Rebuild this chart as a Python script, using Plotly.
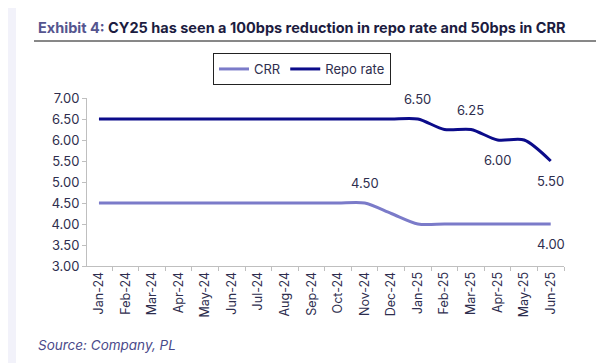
import plotly.graph_objects as go

months = ["Jan-24", "Feb-24", "Mar-24", "Apr-24", "May-24", "Jun-24", "Jul-24", "Aug-24",
          "Sep-24", "Oct-24", "Nov-24", "Dec-24", "Jan-25", "Feb-25", "Mar-25", "Apr-25",
          "May-25", "Jun-25"]
crr = [4.50, 4.50, 4.50, 4.50, 4.50, 4.50, 4.50, 4.50, 4.50, 4.50, 4.50, 4.25,
       4.00, 4.00, 4.00, 4.00, 4.00, 4.00]
repo = [6.50, 6.50, 6.50, 6.50, 6.50, 6.50, 6.50, 6.50, 6.50, 6.50, 6.50, 6.50,
        6.50, 6.25, 6.25, 6.00, 6.00, 5.50]
y_ticks = [3.0, 3.5, 4.0, 4.5, 5.0, 5.5, 6.0, 6.5, 7.0]

# labelled points: (index, above?)
repo_labels = [(12, True), (14, True), (15, False), (17, False)]
crr_labels = [(10, True), (17, False)]

CRR_COLOR = "#7b7bc9"
REPO_COLOR = "#0b0b8a"
TEXT = "#2e2e4e"
FONT = "Inter"

fig = go.Figure()
fig.add_trace(go.Scatter(x=months, y=crr, name="CRR", mode="lines",
                         line=dict(color=CRR_COLOR, width=3, shape="spline", smoothing=0.8)))
fig.add_trace(go.Scatter(x=months, y=repo, name="Repo rate", mode="lines",
                         line=dict(color=REPO_COLOR, width=3, shape="spline", smoothing=0.8)))

ann = []
for series, labels in ((repo, repo_labels), (crr, crr_labels)):
    for i, above in labels:
        ann.append(dict(x=months[i], y=series[i], xref="x", yref="y", text=f"{series[i]:.2f}",
                        showarrow=False, yshift=20 if above else -20,
                        font=dict(family=FONT, size=13, color=TEXT)))

W, H = 611, 363
L, R, T, B = 79, 55, 90, 105
pw, ph = W - L - R, H - T - B
def px(x):
    return (x - L) / pw
def py(y):
    return (H - B - y) / ph

ann.append(dict(x=px(28), y=py(20), xref="paper", yref="paper", xanchor="left", yanchor="middle",
                showarrow=False,
                text="<span style='color:#55558f'>Exhibit 4:</span> CY25 has seen a 100bps reduction in repo rate and 50bps in CRR",
                font=dict(family=FONT, size=14.5, color="#1c1c40", weight="bold")))
ann.append(dict(x=px(28), y=py(337), xref="paper", yref="paper", xanchor="left", yanchor="middle",
                showarrow=False, text="<i>Source: Company, PL</i>",
                font=dict(family=FONT, size=13.5, color="#4a4a8a")))

shapes = [
    dict(type="line", xref="paper", yref="paper", x0=px(26), x1=px(588), y0=py(33), y1=py(33),
         line=dict(color="#111111", width=1)),
    dict(type="rect", xref="paper", yref="paper", x0=px(0), x1=px(8), y0=py(0), y1=py(H),
         fillcolor="#f2f2fa", line=dict(width=0), layer="below"),
]

fig.update_layout(
    width=W, height=H,
    margin=dict(l=L, r=R, t=T, b=B),
    paper_bgcolor="white", plot_bgcolor="white",
    showlegend=True,
    legend=dict(orientation="h", x=px(205), y=py(45), xanchor="left", yanchor="top",
                bordercolor="#222222", borderwidth=1, font=dict(family=FONT, size=13, color=TEXT),
                itemwidth=30, tracegroupgap=0),
    annotations=ann,
    shapes=shapes,
    xaxis=dict(type="category", range=[-0.45, 17.5], tickangle=-90, showgrid=False, zeroline=False,
               showline=True, linecolor="#bfbfbf", linewidth=1,
               ticks="outside", tickson="boundaries", ticklen=4, tickcolor="#bfbfbf",
               tickfont=dict(family=FONT, size=12.5, color=TEXT)),
    yaxis=dict(range=[3, 7], tickvals=y_ticks, ticktext=[f"{v:.2f}" for v in y_ticks],
               showgrid=False, zeroline=False, showline=True, linecolor="#bfbfbf",
               linewidth=1, ticks="outside", ticklen=4, tickcolor="#bfbfbf",
               tickfont=dict(family=FONT, size=13, color=TEXT)),
)

fig.write_html("out.html")
